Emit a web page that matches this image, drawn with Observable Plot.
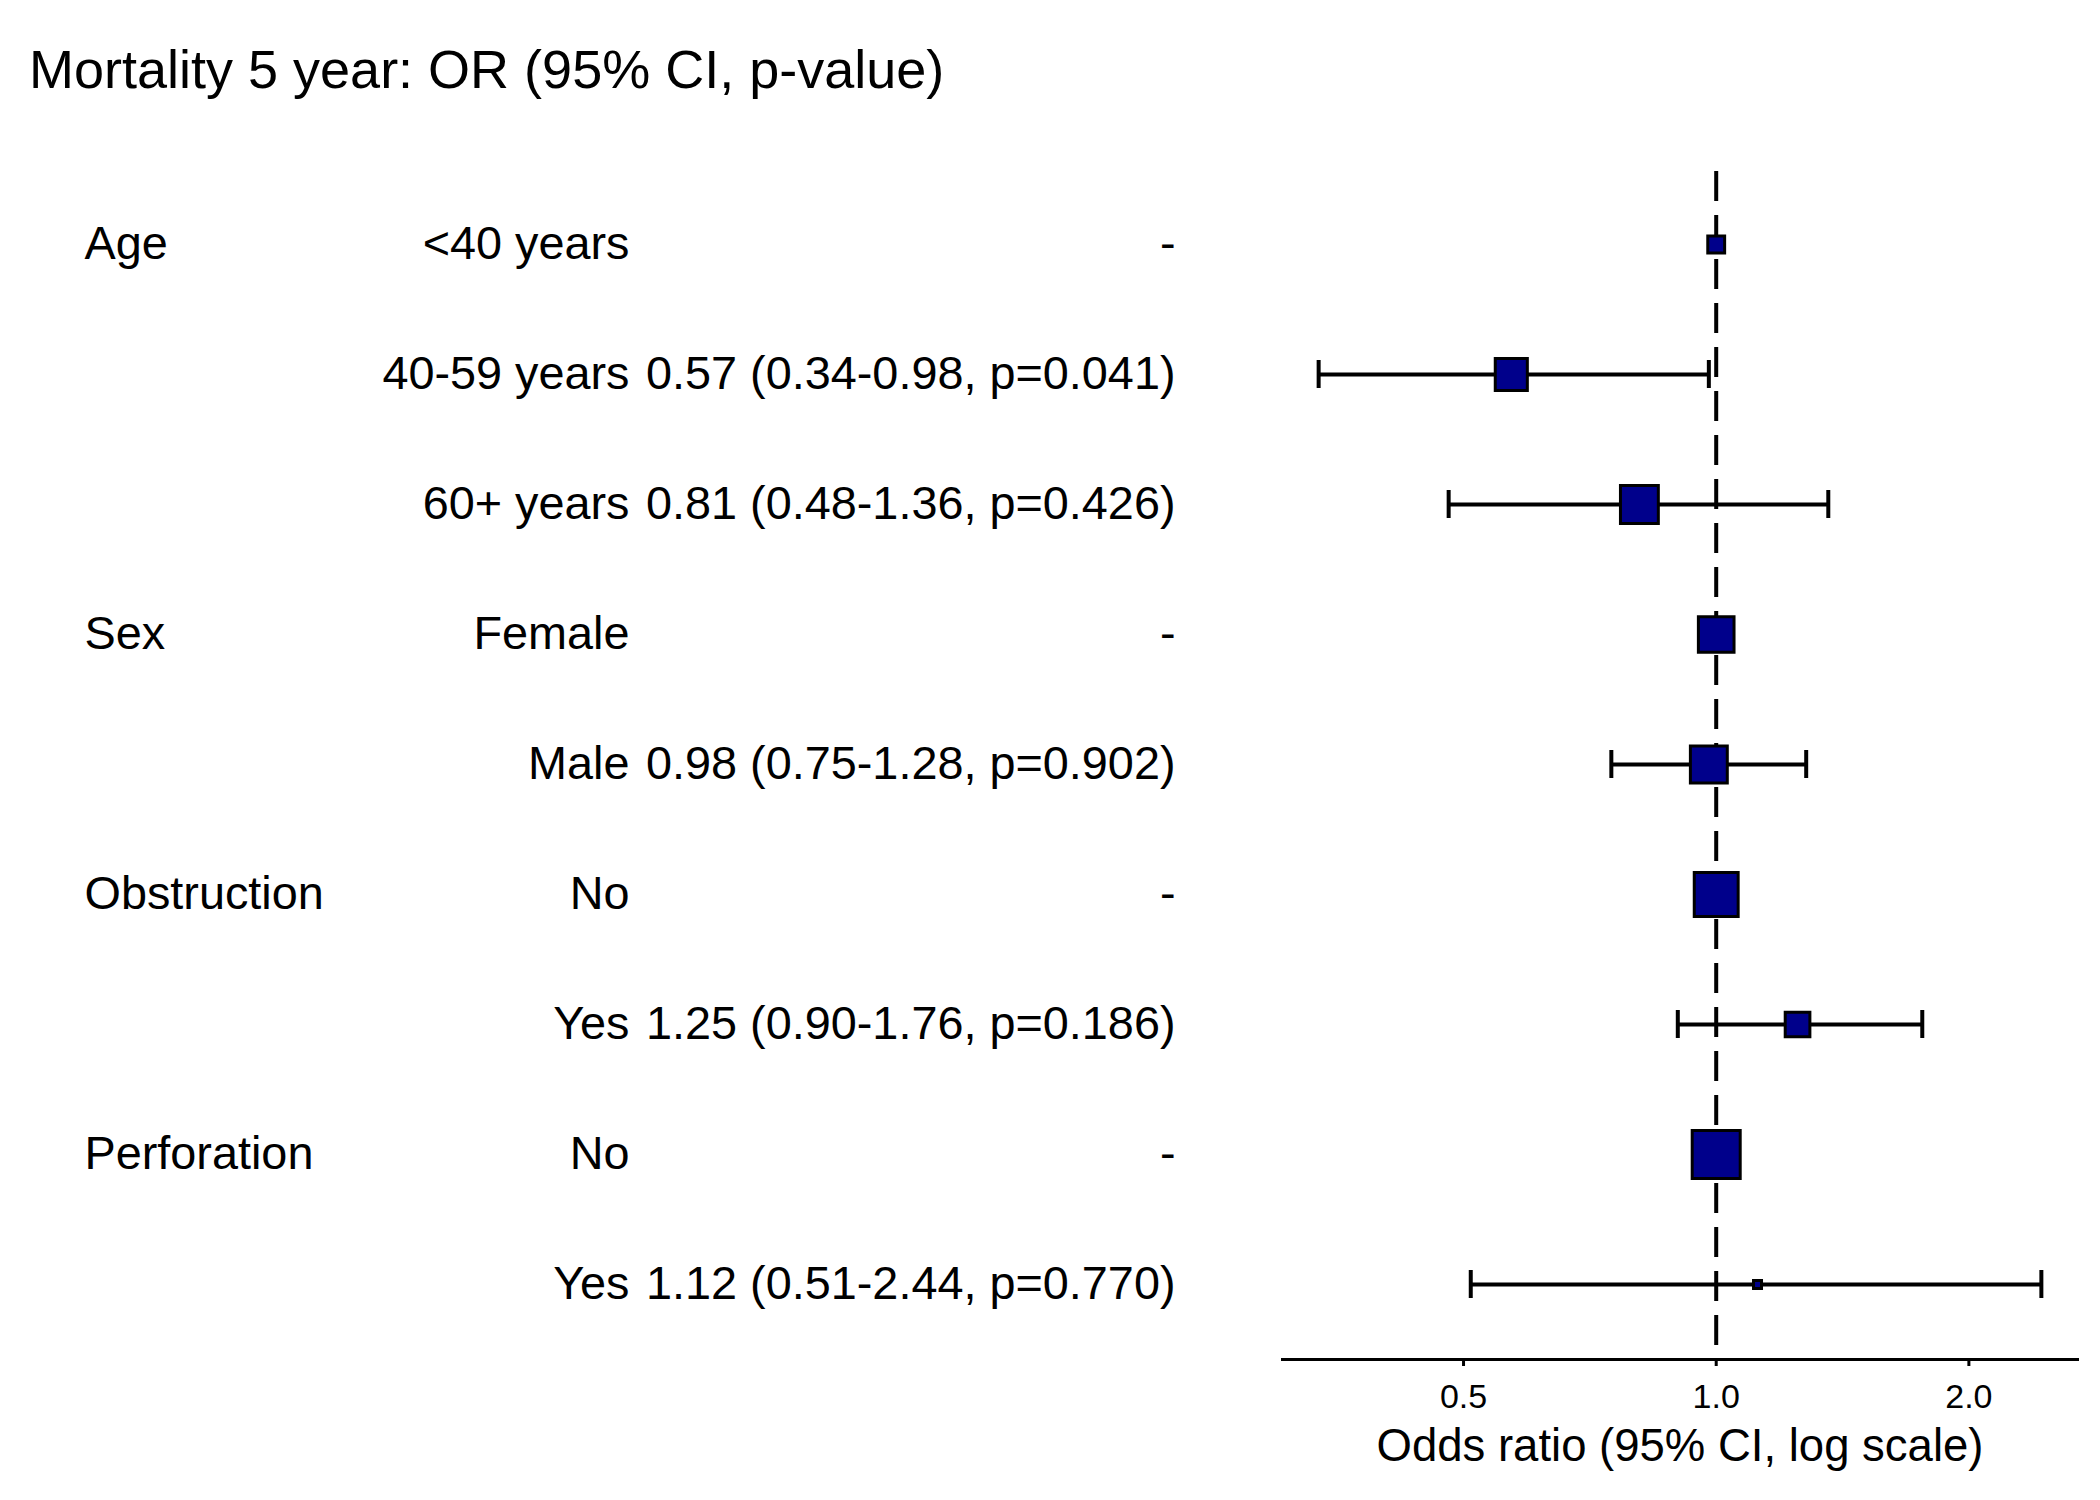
<!DOCTYPE html>
<html>
<head>
<meta charset="utf-8">
<script src="https://cdn.jsdelivr.net/npm/d3@7"></script>
<script src="https://cdn.jsdelivr.net/npm/@observablehq/plot@0.6"></script>
<style>
  html, body { margin: 0; padding: 0; background: #fff; }
  body { width: 2100px; height: 1500px; overflow: hidden; font-family: "Liberation Sans", Arial, Helvetica, sans-serif; }
  #title { height: 130px; box-sizing: border-box; padding-top: 42px; padding-left: 29px; font-size: 54px; line-height: 54px; color: #000; white-space: nowrap; }
  #chart svg { display: block; }
</style>
</head>
<body>
<div id="title">Mortality 5 year: OR (95% CI, p-value)</div>
<div id="chart"></div>
<script>
// ---- data ----
const groups = ["Age", "", "", "Sex", "", "Obstruction", "", "Perforation", ""];
const levels = ["<40 years", "40-59 years", "60+ years", "Female", "Male", "No", "Yes", "No", "Yes"];
const orText = ["-", "0.57 (0.34-0.98, p=0.041)", "0.81 (0.48-1.36, p=0.426)", "-", "0.98 (0.75-1.28, p=0.902)", "-", "1.25 (0.90-1.76, p=0.186)", "-", "1.12 (0.51-2.44, p=0.770)"];
const oddsRatio = [1, 0.57, 0.81, 1, 0.98, 1, 1.25, 1, 1.12];
const lower = [null, 0.336, 0.48, null, 0.75, null, 0.90, null, 0.51];
const upper = [null, 0.98, 1.36, null, 1.28, null, 1.76, null, 2.44];
const counts = [70, 344, 515, 445, 484, 732, 179, 902, 27];
const xTicks = [0.5, 1.0, 2.0];
const xLabel = "Odds ratio (95% CI, log scale)";

// ---- table ----
const rows = levels.map((lv, i) => ({
  i, group: groups[i], level: lv, text: orText[i],
  or: oddsRatio[i], lo: lower[i], hi: upper[i], n: counts[i]
}));
const ciRows = rows.filter(d => d.lo != null);

// x domain: CI extent expanded 5% in log space (as ggplot does)
const lmin = Math.log10(d3.min(lower.filter(v => v != null)));
const lmax = Math.log10(d3.max(upper.filter(v => v != null)));
const pad = (lmax - lmin) * 0.05;
const xDomain = [Math.pow(10, lmin - pad), Math.pow(10, lmax + pad)];

// size: area-style rescale of counts into [0,1]
const [nMin, nMax] = d3.extent(counts);
const sizeVal = d => Math.sqrt((d.n - nMin) / (nMax - nMin));

const textDy = 0;
const textSize = 46.8;
const capInset = 51;

const plot = Plot.plot({
  width: 2100,
  height: 1370,
  marginLeft: 1282,
  marginRight: 23,
  marginTop: 41,
  marginBottom: 141,
  style: { fontFamily: "'Liberation Sans', Arial, Helvetica, sans-serif", fontSize: "46px", color: "#000", background: "#fff" },
  x: { type: "log", domain: xDomain },
  y: { type: "band", domain: d3.range(levels.length), range: [49, 1219], padding: 0, axis: null },
  r: { type: "linear", domain: [0, 1], range: [8 / Math.sqrt(Math.PI), 48 / Math.sqrt(Math.PI)] },
  marks: [
    Plot.ruleX([1], { stroke: "#000", strokeWidth: 4, strokeDasharray: "30,14" }),
    Plot.ruleY(ciRows, { y: "i", x1: "lo", x2: "hi", stroke: "#000", strokeWidth: 4 }),
    Plot.tickX(ciRows, { x: "lo", y: "i", stroke: "#000", strokeWidth: 4, insetTop: capInset, insetBottom: capInset }),
    Plot.tickX(ciRows, { x: "hi", y: "i", stroke: "#000", strokeWidth: 4, insetTop: capInset, insetBottom: capInset }),
    Plot.dot(rows, { x: "or", y: "i", r: sizeVal, symbol: "square", fill: "#00008B", stroke: "#000", strokeWidth: 3 }),
    // table columns
    Plot.text(rows, { y: "i", text: "group", frameAnchor: "left", textAnchor: "start", dx: 84 - 1282, dy: textDy, fontSize: textSize, fill: "#000" }),
    Plot.text(rows, { y: "i", text: "level", frameAnchor: "left", textAnchor: "end", dx: 629 - 1282, dy: textDy, fontSize: textSize, fill: "#000" }),
    Plot.text(rows, { y: "i", text: "text", frameAnchor: "left", textAnchor: "end", dx: 1175 - 1282, dy: textDy, fontSize: textSize, fill: "#000" }),
    // x axis
    Plot.frame({ anchor: "bottom", stroke: "#000", strokeWidth: 3 }),
    Plot.axisX({ ticks: xTicks, tickFormat: d3.format(".1f"), tickSize: 7, tickPadding: 17, fontSize: 34, label: null, stroke: "#000", strokeWidth: 3, fill: "#000" }),
    Plot.text([xLabel], { frameAnchor: "bottom", lineAnchor: "middle", dy: 87, fontSize: 45.5, fill: "#000" })
  ]
});
document.getElementById("chart").appendChild(plot);
</script>
</body>
</html>
